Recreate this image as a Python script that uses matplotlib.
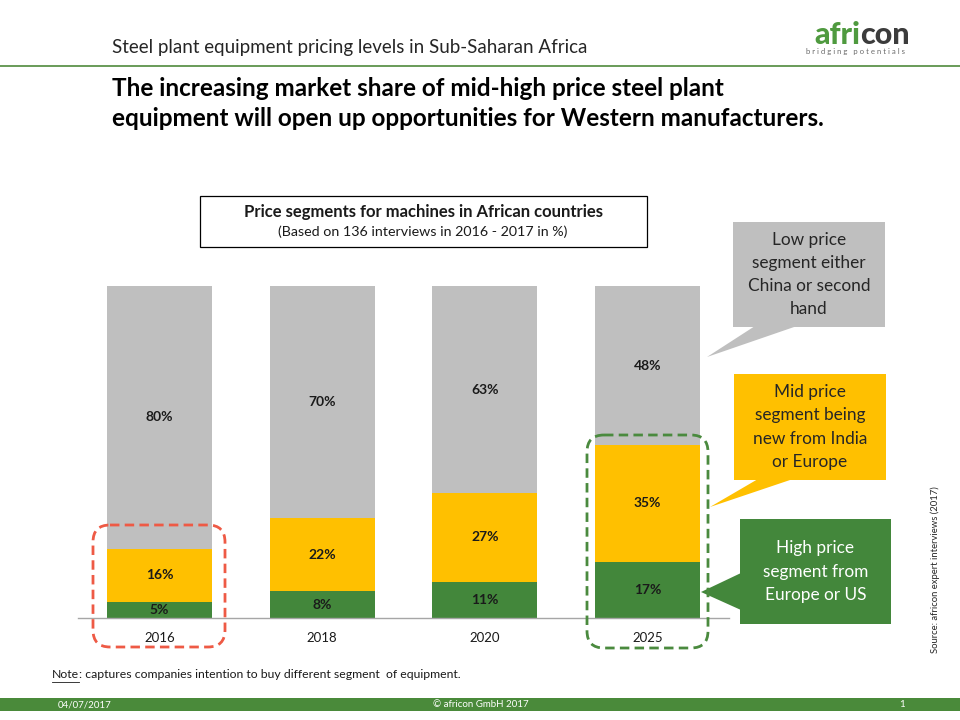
import numpy as np
import matplotlib
matplotlib.use("Agg")
import matplotlib.pyplot as plt
from matplotlib.patches import Rectangle, Polygon, FancyBboxPatch

# data (share of interviews, %)
YEARS = ["2016", "2018", "2020", "2025"]
HIGH = [5, 8, 11, 17]
MID = [16, 22, 27, 35]
LOW = [80, 70, 63, 48]

GREEN = "#43873b"
YELLOW = "#ffc000"
GREY = "#bfbfbf"
DARK = "#1a1a1a"
RED_DASH = "#ee5a45"

plt.rcParams["font.family"] = ["Lato", "DejaVu Sans"]

fig = plt.figure(figsize=(9.6, 7.2), dpi=100)
W, H = 960.0, 720.0


def px_rect(x0, y0, x1, y1):
    # pixel box (top-left origin) -> figure fraction rect
    return [x0 / W, (H - y1) / H, (x1 - x0) / W, (y1 - y0) / H]


# ---- stacked 100% bars ----
ax = fig.add_axes(px_rect(78, 286, 729, 618))
x = np.arange(len(YEARS))
high = np.array(HIGH, float)
mid = np.array(MID, float)
low = np.array(LOW, float)
total = high + mid + low
h_high = high / total * 100
h_mid = mid / total * 100
h_low = low / total * 100

bw = 0.644
ax.bar(x, h_high, width=bw, color=GREEN, zorder=2)
ax.bar(x, h_mid, width=bw, bottom=h_high, color=YELLOW, zorder=2)
ax.bar(x, h_low, width=bw, bottom=h_high + h_mid, color=GREY, zorder=2)

for i in range(len(YEARS)):
    ax.text(x[i], h_high[i] / 2, f"{HIGH[i]}%", ha="center", va="center",
            fontsize=10, fontweight="bold", color=DARK)
    ax.text(x[i], h_high[i] + h_mid[i] / 2, f"{MID[i]}%", ha="center",
            va="center", fontsize=10, fontweight="bold", color=DARK)
    ax.text(x[i], h_high[i] + h_mid[i] + h_low[i] / 2, f"{LOW[i]}%",
            ha="center", va="center", fontsize=10, fontweight="bold",
            color=DARK)

ax.set_xlim(-0.5, len(YEARS) - 0.5)
ax.set_ylim(0, 100)
ax.set_xticks(x, YEARS)
ax.tick_params(axis="x", length=0, pad=10, labelsize=9.5, labelcolor=DARK)
ax.set_yticks([])
for s in ["top", "right", "left"]:
    ax.spines[s].set_visible(False)
ax.spines["bottom"].set_color("#a6a6a6")
ax.spines["bottom"].set_linewidth(1.0)
ax.patch.set_alpha(0)

# ---- overlay in pixel coordinates for slide decorations ----
ov = fig.add_axes([0, 0, 1, 1])
ov.set_xlim(0, W)
ov.set_ylim(H, 0)
ov.axis("off")
ov.patch.set_alpha(0)

# header
ov.text(112, 48, "Steel plant equipment pricing levels in Sub-Saharan Africa",
        ha="left", va="center", fontsize=13.5, color="#262626")
ov.plot([0, W], [66, 66], color="#4f8a3c", lw=1.2)

# logo
ov.text(860, 44, "afri", ha="right", va="baseline", fontsize=22,
        fontweight="black", color="#4f9a3f")
ov.text(860, 44, "con", ha="left", va="baseline", fontsize=22,
        fontweight="black", color="#3c3c3c")
ov.text(856, 51.5, "b r i d g i n g   p o t e n t i a l s", ha="center",
        va="center", fontsize=5.6, color="#6a6a6a")

# headline
ov.text(112, 88, "The increasing market share of mid-high price steel plant",
        ha="left", va="center", fontsize=17.5, fontweight="bold", color="black")
ov.text(112, 119, "equipment will open up opportunities for Western manufacturers.",
        ha="left", va="center", fontsize=17.5, fontweight="bold", color="black")

# chart title box
ov.add_patch(Rectangle((200, 196), 447, 51, facecolor="white",
                       edgecolor="black", lw=0.9))
ov.text(423, 212, "Price segments for machines in African countries",
        ha="center", va="center", fontsize=12, fontweight="bold", color=DARK)
ov.text(423, 232, "(Based on 136 interviews in 2016 - 2017 in %)",
        ha="center", va="center", fontsize=10.3, color=DARK)


def callout(box, tail, color, text, tcolor):
    x0, y0, x1, y1 = box
    ov.add_patch(Polygon(tail, closed=True, facecolor=color, edgecolor="none"))
    ov.add_patch(Rectangle((x0, y0), x1 - x0, y1 - y0, facecolor=color,
                           edgecolor="none"))
    ov.text((x0 + x1) / 2, (y0 + y1) / 2, text, ha="center", va="center",
            fontsize=12.4, color=tcolor, linespacing=1.55)


callout((733, 222, 885, 327), [(755, 326), (797, 326), (707, 357)], GREY,
        "Low price\nsegment either\nChina or second\nhand", "#262626")
callout((734, 374, 886, 480), [(758, 479), (793, 479), (710, 507)], YELLOW,
        "Mid price\nsegment being\nnew from India\nor Europe", "#262626")
callout((740, 519, 891, 624), [(741, 573), (741, 610), (701, 592)], GREEN,
        "High price\nsegment from\nEurope or US", "white")

# dashed highlight boxes
r = 17
for (bx0, by0, bx1, by1), col in [((93, 525, 225, 647), RED_DASH),
                                   ((587, 435, 708, 648), "#4a8a3e")]:
    ov.add_patch(FancyBboxPatch((bx0 + r, by0 + r), bx1 - bx0 - 2 * r,
                                by1 - by0 - 2 * r,
                                boxstyle=f"round,pad={r}", facecolor="none",
                                edgecolor=col, lw=2.0,
                                linestyle=(0, (3.4, 1.9))))

# source
ov.text(935, 570, "Source: africon expert interviews (2017)", rotation=90,
        ha="center", va="center", fontsize=6.8, color="#262626")

# note
fig.canvas.draw()
rend = fig.canvas.get_renderer()
t_note = ov.text(52, 675, "Note", ha="left", va="center", fontsize=8.8,
                 color=DARK)
bb = t_note.get_window_extent(renderer=rend)
x_end = bb.x1 / fig.dpi / fig.get_figwidth() * W
ov.plot([52, x_end], [681.5, 681.5], color=DARK, lw=0.6)
ov.text(x_end, 675, ": captures companies intention to buy different segment  of equipment.",
        ha="left", va="center", fontsize=8.8, color=DARK)

# footer
ov.add_patch(Rectangle((0, 698), W, 13, facecolor="#4a8a3a", edgecolor="none"))
ov.text(58, 704.5, "04/07/2017", ha="left", va="center", fontsize=7,
        color="white")
ov.text(481, 704.5, "\u00a9 africon GmbH 2017", ha="center", va="center",
        fontsize=7, color="white")
ov.text(902, 704.5, "1", ha="center", va="center", fontsize=7, color="white")

fig.savefig("out.png", dpi=100)
